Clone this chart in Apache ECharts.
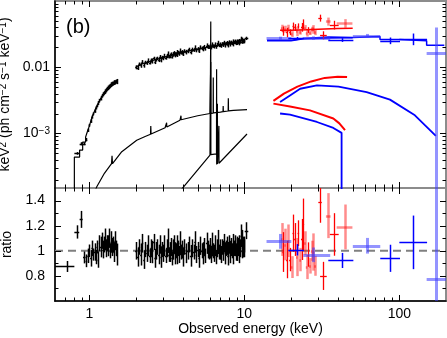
<!DOCTYPE html>
<html>
<head>
<meta charset="utf-8">
<script src="https://cdn.jsdelivr.net/npm/echarts@6.0.0/dist/echarts.min.js"></script>
<style>
html,body{margin:0;padding:0;background:#fff}
#chart{width:447px;height:338px}
</style>
</head>
<body>
<div id="chart"></div>
<script>
'use strict';
// axis ranges
var eMin = 0.6, eMax = 200;
var fluxMin = 1.5e-4, fluxMax = 0.1;
var ratioMin = 0.6, ratioMax = 1.5;

// tick values
var eMajorTicks = [1, 10, 100];
var eMinorTicks = [0.7, 0.8, 0.9, 2, 3, 4, 5, 6, 7, 8, 9, 20, 30, 40, 50, 60, 70, 80, 90];
var fluxMajorTicks = [0.001, 0.01];
var fluxMinorTicks = [0.0002, 0.0003, 0.0004, 0.0005, 0.0006, 0.0007, 0.0008, 0.0009,
  0.002, 0.003, 0.004, 0.005, 0.006, 0.007, 0.008, 0.009,
  0.02, 0.03, 0.04, 0.05, 0.06, 0.07, 0.08, 0.09];
var ratioMajorTicks = [0.8, 1.0, 1.2, 1.4];
var ratioMinorTicks = [0.7, 0.9, 1.1, 1.3];
var fluxLabelValues = [0.001, 0.01];
var fluxLabelTexts = ['{b|10}{s|\u22123}', '0.01'];

// black: soft band 1.0-1.5 keV
var blackLoE = [0.98, 1.00, 1.02, 1.04, 1.06, 1.08, 1.10, 1.12, 1.14, 1.16,
  1.18, 1.20, 1.22, 1.24, 1.26, 1.28, 1.30, 1.32, 1.34, 1.36,
  1.38, 1.40, 1.42, 1.44, 1.46, 1.48, 1.50];
var blackLoFlux = [0.00112, 0.00133, 0.00155, 0.00178, 0.00198, 0.00220, 0.00245, 0.00262, 0.00288, 0.00314,
  0.00342, 0.00370, 0.00392, 0.00410, 0.00430, 0.00450, 0.00478, 0.00490, 0.00510, 0.00530,
  0.00550, 0.00565, 0.00575, 0.00590, 0.00595, 0.00615, 0.00610];
var blackLoRatio = [0.96, 1.00, 0.94, 1.02, 0.97, 0.99, 0.95, 1.03, 0.93, 1.06,
  1.03, 1.08, 1.01, 1.05, 1.09, 1.02, 1.06, 1.04, 1.10, 1.00,
  1.07, 1.03, 1.05, 0.99, 1.08, 1.02, 0.97];
var blackLoErr = [0.06, 0.05, 0.07, 0.06, 0.05, 0.07, 0.06, 0.05, 0.07, 0.06,
  0.08, 0.06, 0.07, 0.06, 0.08, 0.07, 0.06, 0.08, 0.07, 0.06,
  0.08, 0.07, 0.06, 0.08, 0.07, 0.06, 0.09];

// black: 2-10 keV band
var blackHiE = [2.00, 2.05, 2.10, 2.15, 2.20, 2.25, 2.30, 2.35, 2.40, 2.45,
  2.50, 2.55, 2.60, 2.65, 2.70, 2.75, 2.80, 2.85, 2.90, 2.95,
  3.00, 3.05, 3.10, 3.15, 3.20, 3.25, 3.30, 3.35, 3.40, 3.45,
  3.50, 3.55, 3.60, 3.65, 3.70, 3.75, 3.80, 3.85, 3.90, 3.95,
  4.00,
  4.1, 4.2, 4.3, 4.4, 4.5, 4.6, 4.7, 4.8, 4.9, 5.0,
  5.1, 5.2, 5.3, 5.4, 5.5, 5.6, 5.7, 5.8, 5.9, 6.0,
  6.1, 6.2, 6.3, 6.4, 6.5, 6.6, 6.7, 6.8, 6.9, 7.0,
  7.1, 7.2, 7.3, 7.4, 7.5, 7.6, 7.7, 7.8, 7.9, 8.0,
  8.1, 8.2, 8.3, 8.4, 8.5, 8.6, 8.7, 8.8, 8.9, 9.0,
  9.1, 9.2, 9.3, 9.4, 9.5, 9.6, 9.7, 9.8, 9.9, 10.0];
var blackHiFlux = [0.01000, 0.00988, 0.01112, 0.01077, 0.01198, 0.01070, 0.01182, 0.01166, 0.01258, 0.01171,
  0.01265, 0.01247, 0.01359, 0.01213, 0.01310, 0.01360, 0.01300, 0.01428, 0.01302, 0.01404,
  0.01372, 0.01477, 0.01382, 0.01479, 0.01588, 0.01445, 0.01485, 0.01566, 0.01438, 0.01566,
  0.01638, 0.01548, 0.01590, 0.01536, 0.01685, 0.01663, 0.01601, 0.01760, 0.01653, 0.01697,
  0.01606,
  0.01761, 0.01695, 0.01750, 0.01859, 0.01718, 0.01846, 0.01812, 0.01980, 0.01804, 0.01899,
  0.01786, 0.01997, 0.01930, 0.01911, 0.02029, 0.01901, 0.02120, 0.02030, 0.02010, 0.02081,
  0.01998, 0.02174, 0.02090, 0.02058, 0.02194, 0.02024, 0.02183, 0.02301, 0.02138, 0.02192,
  0.02115, 0.02256, 0.02200, 0.02343, 0.02176, 0.02275, 0.02330, 0.02160, 0.02283, 0.02384,
  0.02257, 0.02359, 0.02300, 0.02241, 0.02459, 0.02377, 0.02423, 0.02317, 0.02468, 0.02384,
  0.02431, 0.02323, 0.02523, 0.02438, 0.02677, 0.02400, 0.02616, 0.02482, 0.02541, 0.02468];
var blackHiRatio = [1.00, 0.95, 1.03, 0.97, 1.06, 0.93, 1.01, 0.98, 1.04, 0.96,
  1.02, 0.99, 1.07, 0.94, 1.00, 1.03, 0.97, 1.05, 0.95, 1.01,
  0.98, 1.04, 0.96, 1.02, 1.08, 0.97, 0.99, 1.03, 0.94, 1.01,
  1.05, 0.98, 1.00, 0.96, 1.04, 1.02, 0.97, 1.06, 0.99, 1.01,
  0.95,
  1.03, 0.98, 1.00, 1.05, 0.96, 1.02, 0.99, 1.07, 0.97, 1.01,
  0.94, 1.04, 1.00, 0.98, 1.03, 0.96, 1.06, 1.01, 0.99, 1.02,
  0.97, 1.05, 1.00, 0.98, 1.04, 0.95, 1.02, 1.07, 0.99, 1.01,
  0.97, 1.03, 1.00, 1.06, 0.98, 1.02, 1.04, 0.96, 1.01, 1.05,
  0.99, 1.03, 1.00, 0.97, 1.06, 1.02, 1.04, 0.99, 1.05, 1.01,
  1.03, 0.98, 1.06, 1.02, 1.12, 1.00, 1.09, 1.03, 1.05, 1.02];
var blackHiErr = [0.07, 0.08, 0.06, 0.09, 0.07, 0.08, 0.06, 0.07, 0.08, 0.06,
  0.07, 0.09, 0.06, 0.08, 0.07, 0.06, 0.08, 0.07, 0.09, 0.06,
  0.07, 0.08, 0.06, 0.07, 0.09, 0.06, 0.08, 0.07, 0.06, 0.08,
  0.07, 0.09, 0.06, 0.07, 0.08, 0.06, 0.07, 0.09, 0.06, 0.07,
  0.08,
  0.06, 0.08, 0.07, 0.06, 0.09, 0.07, 0.06, 0.08, 0.07, 0.06,
  0.08, 0.07, 0.06, 0.09, 0.07, 0.06, 0.08, 0.07, 0.06, 0.08,
  0.07, 0.09, 0.06, 0.07, 0.08, 0.06, 0.07, 0.09, 0.06, 0.08,
  0.07, 0.06, 0.08, 0.07, 0.09, 0.06, 0.07, 0.08, 0.06, 0.07,
  0.09, 0.07, 0.06, 0.08, 0.07, 0.06, 0.08, 0.07, 0.06, 0.09,
  0.07, 0.08, 0.06, 0.07, 0.08, 0.06, 0.07, 0.08, 0.06, 0.07];

// black: isolated wide bins
var blackSpE = [0.715, 0.829, 0.884, 0.928, 0.956, 10.3];
var blackSpLo = [0.60, 0.80, 0.865, 0.91, 0.945, 10.05];
var blackSpHi = [0.80, 0.86, 0.905, 0.945, 0.968, 10.6];
var blackSpFlux = [0.00013, 0.00050, 0.00070, 0.00070, 0.00081, 0.0273];
var blackSpRatio = [0.875, 1.15, 1.25, 0.947, 0.92, 1.16];
var blackSpErr = [0.05, 0.046, 0.054, 0.05, 0.055, 0.058];

// black model curves
var modelLoE = [0.80, 0.80, 0.865, 0.865, 0.905, 0.905, 0.945, 0.945, 0.97, 1.00, 1.036, 1.116, 1.20, 1.295, 1.395, 1.50];
var modelLoF = [0.0001, 0.00044, 0.00044, 0.00056, 0.00056, 0.00074, 0.00074, 0.00088, 0.00106, 0.0013, 0.00172, 0.0026, 0.0035, 0.0044, 0.0052, 0.0058];
var modelHiE = [2.0, 2.12, 2.5, 3.08, 3.85, 5.0, 6.3, 8.0, 10.0];
var modelHiF = [0.0100, 0.0110, 0.0124, 0.0143, 0.0166, 0.0188, 0.0209, 0.0227, 0.0242];
var compAE = [1.05, 1.116, 1.25, 1.39, 1.40, 1.41, 1.618, 2.02, 2.29, 2.48, 2.49, 2.50, 3.08, 3.14, 3.15, 3.16,
  3.84, 3.89, 3.90, 3.91, 5.0, 6.0, 6.06, 6.07, 6.08, 6.29, 6.30, 6.31, 7.0, 7.28, 7.30, 7.32, 7.86, 7.88, 7.90, 8.5, 10.4];
var compAF = [0.00011, 0.000157, 0.00025, 0.00035, 0.00046, 0.00035, 0.00053, 0.00079, 0.00090, 0.00097, 0.0013, 0.00098,
  0.00122, 0.00124, 0.00145, 0.00125, 0.00158, 0.00160, 0.00185, 0.00161, 0.00185, 0.0020, 0.0020, 0.012, 0.0020,
  0.00203, 0.0070, 0.00204, 0.0021, 0.00213, 0.0026, 0.00214, 0.00218, 0.0034, 0.00219, 0.00223, 0.00229];
var compBE = [3.90, 6.00, 6.06, 6.07, 6.08, 6.61, 6.62, 6.63, 6.69, 6.70, 6.71, 6.84, 6.85, 6.86, 10.4];
var compBF = [0.00014, 0.00047, 0.000475, 0.049, 0.00048, 0.00049, 0.0093, 0.00034, 0.000345, 0.0028, 0.000345,
  0.00035, 0.0013, 0.000355, 0.00098];

// red data
var redE = [17.4, 17.8, 18.3, 18.8, 19.2, 19.7, 20.2, 20.7, 21.2, 21.8, 22.3, 22.9, 23.5, 24.0, 24.6, 25.2, 25.9,
  26.5, 27.2, 27.9, 28.6, 30.8, 32.4, 34.8, 38.1, 44.6];
var redDE = [0.2, 0.2, 0.2, 0.2, 0.2, 0.25, 0.25, 0.25, 0.25, 0.25, 0.25, 0.3, 0.3, 0.3, 0.3, 0.3, 0.3,
  0.35, 0.35, 0.35, 0.4, 0.8, 1.6, 1.2, 2.5, 5.2];
var redFlux = [0.0391, 0.0356, 0.0378, 0.0337, 0.0391, 0.0339, 0.0318, 0.0418, 0.0400, 0.0351, 0.0421, 0.0345, 0.0405,
  0.0451, 0.0397, 0.0327, 0.0366, 0.0332, 0.0378, 0.0376, 0.0335, 0.0555, 0.0306, 0.0493, 0.0437, 0.0463];
var redRatio = [1.09, 0.99, 1.05, 0.93, 1.08, 0.93, 0.87, 1.14, 1.09, 0.95, 1.14, 0.93, 1.09, 1.21, 1.06, 0.87, 0.97,
  0.88, 1.00, 0.99, 0.88, 1.39, 0.80, 1.28, 1.13, 1.19];
var redErr = [0.12, 0.16, 0.12, 0.16, 0.12, 0.10, 0.10, 0.13, 0.12, 0.16, 0.09, 0.10, 0.15, 0.17, 0.09, 0.11, 0.10,
  0.07, 0.08, 0.15, 0.09, 0.12, 0.14, 0.14, 0.15, 0.15];
var redLight = [1, 0, 1, 0, 1, 0, 1, 0, 0, 1, 0, 1, 0, 0, 1, 1, 0, 1, 1, 1, 1, 0, 0, 1, 0, 1];

// blue data
var blueE = [17.0, 21.8, 27.9, 42.5, 62.0, 87.0, 123, 172];
var blueLo = [13.9, 19.2, 24.0, 34.8, 50.1, 75.3, 100, 150];
var blueHi = [20.1, 24.2, 35.8, 50.5, 75.3, 101, 151, 200];
var blueFlux = [0.0274, 0.0274, 0.0276, 0.0258, 0.0300, 0.0252, 0.0269, 0.0166];
var blueRatio = [1.075, 1.008, 0.968, 0.923, 1.04, 0.94, 1.067, 0.774];
var blueErr = [0.055, 0.045, 0.06, 0.065, 0.06, 0.115, 0.20, 1.4];
var blueLight = [1, 0, 1, 0, 1, 0, 0, 1];

// red / blue models and components
var redModelE = [17, 20, 25, 30, 40, 50];
var redModelF = [0.0362, 0.0368, 0.0376, 0.0384, 0.0389, 0.0389];
var blueModelE = [14, 20, 24, 35, 50, 75, 100, 150, 195];
var blueModelF = [0.0255, 0.0272, 0.0287, 0.0280, 0.0292, 0.0262, 0.0252, 0.0215, 0.0215];
var blueModel2E = [14, 20, 24, 35, 50];
var blueModel2F = [0.0250, 0.0268, 0.0275, 0.0276, 0.0276];
var redUpE = [15.4, 18, 22, 27, 33, 40, 46];
var redUpF = [0.0031, 0.0040, 0.0051, 0.0061, 0.0069, 0.0072, 0.0071];
var redLowE = [15.4, 19.7, 26.5, 37.5, 41, 44.6];
var redLowF = [0.00282, 0.00256, 0.00223, 0.00168, 0.00142, 0.00112];
var blueUpE = [17.0, 19.7, 22.9, 29.4, 40.5, 61.5, 87.0, 126, 172];
var blueUpF = [0.00298, 0.00375, 0.00473, 0.00531, 0.0051, 0.00421, 0.00324, 0.00188, 0.00092];
var blueLowE = [17.0, 19.7, 29.4, 37.5, 42.4, 42.4];
var blueLowF = [0.0020, 0.00192, 0.00149, 0.00121, 0.00102, 0.0001];
var refE = [0.6, 200];
var refR = [1, 1];

var FONT = '"Liberation Sans", Arial, sans-serif';
var RED_L = 'rgba(255,0,0,0.45)', BLUE_L = 'rgba(60,60,255,0.55)';

function pairs(xs, ys) {
  return xs.map(function (x, i) { return [x, ys[i]]; });
}

// bin edges halfway to the neighbouring energies
function edgesLo(E) {
  return E.map(function (e, i) { return i > 0 ? (e + E[i - 1]) / 2 : e - (E[1] - e) / 2; });
}
function edgesHi(E) {
  return E.map(function (e, i) { return i < E.length - 1 ? (e + E[i + 1]) / 2 : e + (e - E[i - 1]) / 2; });
}

function line(grid, xs, ys, color, width, step, dash) {
  return {
    type: 'line', xAxisIndex: grid, yAxisIndex: grid, data: pairs(xs, ys),
    showSymbol: false, symbol: 'none', step: step || false, silent: true, clip: true, z: 2,
    lineStyle: { color: color, width: width, type: dash || 'solid' }
  };
}

// [E, value, low, high, eLow, eHigh]
function items(E, lo, hi, v, err, keep) {
  var out = [];
  E.forEach(function (e, i) {
    if (keep && !keep(i)) return;
    out.push([e, v[i], Math.max(v[i] * (1 - err[i]), 1e-6), v[i] * (1 + err[i]), lo ? lo[i] : e, hi ? hi[i] : e]);
  });
  return out;
}

function bars(grid, data, color, width) {
  return {
    type: 'custom', xAxisIndex: grid, yAxisIndex: grid, data: data, clip: true, silent: true, z: 3,
    renderItem: function (params, api) {
      var c = api.coord([api.value(0), api.value(1)]);
      var lo = api.coord([api.value(0), api.value(2)]);
      var hi = api.coord([api.value(0), api.value(3)]);
      var l = api.coord([api.value(4), api.value(1)]);
      var r = api.coord([api.value(5), api.value(1)]);
      var x = Math.round(c[0]) + 0.5, y = Math.round(c[1]) + 0.5;
      var st = { stroke: color, lineWidth: width };
      return {
        type: 'group', children: [
          { type: 'line', shape: { x1: x, y1: lo[1], x2: x, y2: hi[1] }, style: st },
          { type: 'line', shape: { x1: l[0], y1: y, x2: r[0], y2: y }, style: st }
        ]
      };
    }
  };
}

function ticks(grid, refX, refY, xMaj, xMin, yMaj, yMin) {
  var data = [];
  xMaj.forEach(function (v) { data.push([v, refY, 0, 6]); });
  xMin.forEach(function (v) { data.push([v, refY, 0, 3.5]); });
  yMaj.forEach(function (v) { data.push([refX, v, 1, 6]); });
  yMin.forEach(function (v) { data.push([refX, v, 1, 3.5]); });
  return {
    type: 'custom', xAxisIndex: grid, yAxisIndex: grid, data: data, silent: true, z: 10,
    renderItem: function (params, api) {
      var cs = params.coordSys;
      var p = api.coord([api.value(0), api.value(1)]);
      var len = api.value(3);
      var segs;
      if (api.value(2) === 0) {
        var x = Math.round(p[0]) + 0.5;
        segs = [[x, cs.y, x, cs.y + len], [x, cs.y + cs.height, x, cs.y + cs.height - len]];
      } else {
        var y = Math.round(p[1]) + 0.5;
        segs = [[cs.x, y, cs.x + len, y], [cs.x + cs.width, y, cs.x + cs.width - len, y]];
      }
      return {
        type: 'group', children: segs.map(function (s) {
          return { type: 'line', shape: { x1: s[0], y1: s[1], x2: s[2], y2: s[3] }, style: { stroke: '#000', lineWidth: 1 } };
        })
      };
    }
  };
}

function isLight(arr) { return function (i) { return arr[i] === 1; }; }
function isDark(arr) { return function (i) { return arr[i] === 0; }; }
var redLo = redE.map(function (e, i) { return e - redDE[i]; });
var redHi = redE.map(function (e, i) { return e + redDE[i]; });
var bLoL = edgesLo(blackLoE), bLoH = edgesHi(blackLoE);
var bHiL = edgesLo(blackHiE), bHiH = edgesHi(blackHiE);

var blackTop = items(blackLoE, bLoL, bLoH, blackLoFlux, blackLoErr)
  .concat(items(blackHiE, bHiL, bHiH, blackHiFlux, blackHiErr))
  .concat(items(blackSpE, blackSpLo, blackSpHi, blackSpFlux, blackSpErr));
var blackBot = items(blackLoE, bLoL, bLoH, blackLoRatio, blackLoErr)
  .concat(items(blackHiE, bHiL, bHiH, blackHiRatio, blackHiErr))
  .concat(items(blackSpE, blackSpLo, blackSpHi, blackSpRatio, blackSpErr));

var series = [
  // top panel
  line(0, modelLoE, modelLoF, '#000', 1.2),
  line(0, modelHiE, modelHiF, '#000', 1.2),
  line(0, compAE, compAF, '#000', 1.2),
  line(0, compBE, compBF, '#000', 1.2),
  line(0, redModelE, redModelF, '#f00', 1.5, 'end'),
  line(0, blueModelE, blueModelF, '#00f', 1.5, 'end'),
  line(0, blueModel2E, blueModel2F, '#00f', 1.2, 'end'),
  line(0, redUpE, redUpF, '#f00', 2),
  line(0, redLowE, redLowF, '#f00', 2),
  line(0, blueUpE, blueUpF, '#00f', 1.8),
  line(0, blueLowE, blueLowF, '#00f', 1.8),
  bars(0, blackTop, '#000', 1.5),
  bars(0, items(redE, redLo, redHi, redFlux, redErr, isLight(redLight)), RED_L, 2.5),
  bars(0, items(redE, redLo, redHi, redFlux, redErr, isDark(redLight)), '#f00', 1.3),
  bars(0, items(blueE, blueLo, blueHi, blueFlux, blueErr, isLight(blueLight)), BLUE_L, 3),
  bars(0, items(blueE, blueLo, blueHi, blueFlux, blueErr, isDark(blueLight)), '#00f', 1.5),
  ticks(0, 1, 0.001, eMajorTicks, eMinorTicks, fluxMajorTicks, fluxMinorTicks),
  // ratio panel
  line(1, refE, refR, '#808080', 2, false, [8, 5]),
  bars(1, blackBot, '#000', 1.5),
  bars(1, items(redE, redLo, redHi, redRatio, redErr, isLight(redLight)), RED_L, 2.5),
  bars(1, items(redE, redLo, redHi, redRatio, redErr, isDark(redLight)), '#f00', 1.3),
  bars(1, items(blueE, blueLo, blueHi, blueRatio, blueErr, isLight(blueLight)), BLUE_L, 3),
  bars(1, items(blueE, blueLo, blueHi, blueRatio, blueErr, isDark(blueLight)), '#00f', 1.5),
  ticks(1, 1, 1, eMajorTicks, eMinorTicks, ratioMajorTicks, ratioMinorTicks)
];

var chart = echarts.init(document.getElementById('chart'), null, { renderer: 'canvas' });
chart.setOption({
  animation: false,
  backgroundColor: '#fff',
  textStyle: { fontFamily: FONT, color: '#000' },
  grid: [
    { left: 55, right: 1, top: 1, height: 187, show: true, borderColor: '#8c8c8c', borderWidth: 2,
      backgroundColor: 'transparent', containLabel: false, outerBoundsMode: 'none' },
    { left: 55, right: 1, top: 188, height: 113, show: true, borderColor: '#8c8c8c', borderWidth: 2,
      backgroundColor: 'transparent', containLabel: false, outerBoundsMode: 'none' }
  ],
  xAxis: [
    {
      type: 'log', gridIndex: 0, min: eMin, max: eMax,
      axisLine: { show: false }, axisTick: { show: false }, axisLabel: { show: false }, splitLine: { show: false }
    },
    {
      type: 'log', gridIndex: 1, min: eMin, max: eMax,
      axisLine: { show: true, onZero: false, lineStyle: { color: '#000', width: 1.5 } },
      axisTick: { show: false }, splitLine: { show: false },
      axisLabel: {
        fontSize: 14, color: '#000', margin: 6, fontFamily: FONT,
        showMinLabel: false, showMaxLabel: false,
        formatter: function (v) {
          var l = Math.log10(v);
          return Math.abs(l - Math.round(l)) < 1e-6 ? String(Math.round(v)) : '';
        }
      },
      name: 'Observed energy (keV)', nameLocation: 'middle', nameGap: 21,
      nameTextStyle: { fontSize: 14, color: '#000', fontFamily: FONT }
    }
  ],
  yAxis: [
    {
      type: 'log', gridIndex: 0, min: fluxMin, max: fluxMax,
      axisLine: { show: true, onZero: false, lineStyle: { color: '#000', width: 1.5 } },
      axisTick: { show: false }, splitLine: { show: false },
      axisLabel: {
        fontSize: 14, color: '#000', margin: 5, fontFamily: FONT,
        showMinLabel: false, showMaxLabel: false,
        rich: {
          b: { fontSize: 14, fontFamily: FONT, color: '#000' },
          s: { fontSize: 10, fontFamily: FONT, color: '#000', verticalAlign: 'top' }
        },
        formatter: function (v) {
          for (var i = 0; i < fluxLabelValues.length; i++) {
            if (Math.abs(v / fluxLabelValues[i] - 1) < 1e-6) return fluxLabelTexts[i];
          }
          return '';
        }
      },
      name: '{t|keV}{s|2}{t| (ph cm}{s|\u22122}{t| s}{s|\u22121}{t| keV}{s|\u22121}{t|)}',
      nameLocation: 'middle', nameGap: 41,
      nameTextStyle: {
        rich: {
          t: { fontSize: 14, fontFamily: FONT, color: '#000' },
          s: { fontSize: 10, fontFamily: FONT, color: '#000', verticalAlign: 'top' }
        }
      }
    },
    {
      type: 'value', gridIndex: 1, min: ratioMin, max: ratioMax, interval: 0.2,
      axisLine: { show: true, onZero: false, lineStyle: { color: '#000', width: 1.5 } },
      axisTick: { show: false }, splitLine: { show: false },
      axisLabel: { fontSize: 14, color: '#000', margin: 10, fontFamily: FONT, showMinLabel: false, showMaxLabel: false },
      name: 'ratio', nameLocation: 'middle', nameGap: 41,
      nameTextStyle: { fontSize: 14, color: '#000', fontFamily: FONT }
    }
  ],
  graphic: [
    { type: 'text', left: 66, top: 17, style: { text: '(b)', font: '20px ' + FONT, fill: '#000' } }
  ],
  series: series
});
</script>
</body>
</html>
